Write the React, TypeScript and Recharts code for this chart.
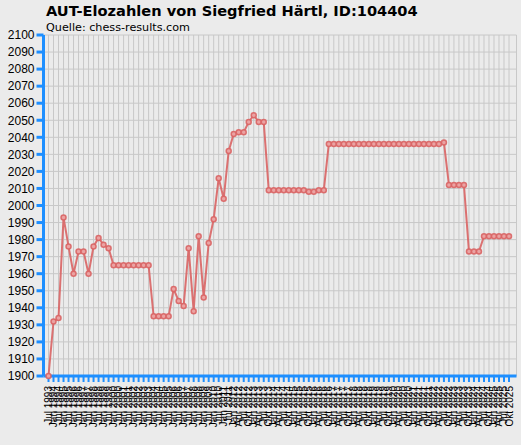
import React from "react";
import { LineChart, Line, XAxis, YAxis, CartesianGrid } from "recharts";

const LISTS = [
  "Jul 1993", "Jan 1994", "Jul 1994", "Jan 1995", "Jul 1995", "Jan 1996", "Jul 1996",
  "Jan 1997", "Jul 1997", "Jan 1998", "Jul 1998", "Jan 1999", "Jul 1999", "Jan 2000",
  "Jul 2000", "Jan 2001", "Jul 2001", "Jan 2002", "Jul 2002", "Jan 2003", "Jul 2003",
  "Jan 2004", "Jul 2004", "Jan 2005", "Jul 2005", "Jan 2006", "Jul 2006", "Jan 2007",
  "Jul 2007", "Jan 2008", "Jul 2008", "Jan 2009", "Jul 2009", "Jan 2010", "Jul 2010",
  "Jan 2011", "Jul 2011",
  "Jan 2012", "Apr 2012", "Jul 2012", "Okt 2012", "Jan 2013", "Apr 2013", "Jul 2013", "Okt 2013",
  "Jan 2014", "Apr 2014", "Jul 2014", "Okt 2014", "Jan 2015", "Apr 2015", "Jul 2015", "Okt 2015",
  "Jan 2016", "Apr 2016", "Jul 2016", "Okt 2016", "Jan 2017", "Apr 2017", "Jul 2017", "Okt 2017",
  "Jan 2018", "Apr 2018", "Jul 2018", "Okt 2018", "Jan 2019", "Apr 2019", "Jul 2019", "Okt 2019",
  "Jan 2020", "Apr 2020", "Jul 2020", "Okt 2020", "Jan 2021", "Apr 2021", "Jul 2021", "Okt 2021",
  "Jan 2022", "Apr 2022", "Jul 2022", "Okt 2022", "Jan 2023", "Apr 2023", "Jul 2023", "Okt 2023",
  "Jan 2024", "Apr 2024", "Jul 2024", "Okt 2024", "Jan 2025", "Apr 2025", "Jul 2025", "Okt 2025",
];

const ELO = [
  1900, 1932, 1934, 1993, 1976, 1960, 1973, 1973, 1960, 1976, 1981, 1977, 1975,
  1965, 1965, 1965, 1965, 1965, 1965, 1965, 1965,
  1935, 1935, 1935, 1935,
  1951, 1944, 1941, 1975, 1938,
  1982, 1946, 1978, 1992, 2016, 2004, 2032, 2042, 2043, 2043, 2049, 2053, 2049, 2049,
  2009, 2009, 2009, 2009, 2009, 2009, 2009, 2009,
  2008, 2008, 2009, 2009,
  2036, 2036, 2036, 2036, 2036, 2036, 2036, 2036, 2036, 2036, 2036, 2036,
  2036, 2036, 2036, 2036, 2036, 2036, 2036, 2036, 2036, 2036, 2036,
  2037,
  2012, 2012, 2012, 2012,
  1973, 1973, 1973,
  1982, 1982, 1982, 1982, 1982, 1982,
];

const Y_TICKS = [
  1900, 1910, 1920, 1930, 1940, 1950, 1960, 1970, 1980, 1990, 2000,
  2010, 2020, 2030, 2040, 2050, 2060, 2070, 2080, 2090, 2100,
];

const data = LISTS.map((label, i) => ({ label, elo: ELO[i] }));

const BLUE = "#1e8fff";
const FONT = "'Liberation Sans', Arial, sans-serif";
const TITLE_FONT = "'DejaVu Sans', Verdana, sans-serif";

function DateTick(props: any) {
  const { x, y, payload } = props;
  return (
    <text
      x={0}
      y={0}
      transform={`translate(${x + 3.5},${y + 2}) rotate(-90)`}
      textAnchor="end"
      fontSize={10}
      fontFamily={FONT}
      fill="#000"
    >
      {payload.value}
    </text>
  );
}

export default function App() {
  return (
    <div
      style={{
        position: "absolute",
        left: 0,
        top: 0,
        width: 521,
        height: 445,
        background: "#ebebeb",
        overflow: "hidden",
      }}
    >
      <svg width={521} height={40} style={{ position: "absolute", left: 0, top: 0 }}>
        <text x={46} y={16} fontSize={14.6} fontWeight="bold" fontFamily={TITLE_FONT} fill="#000">
          AUT-Elozahlen von Siegfried Härtl, ID:104404
        </text>
        <text x={46} y={31} fontSize={11.2} fontFamily={TITLE_FONT} fill="#000">
          Quelle: chess-results.com
        </text>
      </svg>
      <div style={{ position: "absolute", left: 0, top: 0 }}>
        <LineChart
          width={521}
          height={445}
          data={data}
          margin={{ top: 35, right: 4.5, bottom: 9, left: 0 }}
        >
          <CartesianGrid stroke="#c8c8c8" strokeWidth={1} />
          <XAxis
            dataKey="label"
            interval={0}
            height={60}
            padding={{ left: 5, right: 7.5 }}
            axisLine={{ stroke: BLUE, strokeWidth: 3 }}
            tickLine={{ stroke: BLUE, strokeWidth: 2 }}
            tickSize={6}
            tick={<DateTick />}
          />
          <YAxis
            domain={[1900, 2100]}
            ticks={Y_TICKS}
            interval={0}
            width={43.5}
            axisLine={{ stroke: BLUE, strokeWidth: 3 }}
            tickLine={{ stroke: BLUE, strokeWidth: 3 }}
            tickSize={7}
            tick={{ fontSize: 12, fill: "#000", fontFamily: FONT }}
          />
          <Line
            type="linear"
            dataKey="elo"
            stroke="#d96464"
            strokeOpacity={0.9}
            strokeWidth={2}
            dot={{ r: 2.5, fill: "#eba3a3", stroke: "#d96464", strokeWidth: 1.5 }}
            isAnimationActive={false}
          />
        </LineChart>
      </div>
    </div>
  );
}
